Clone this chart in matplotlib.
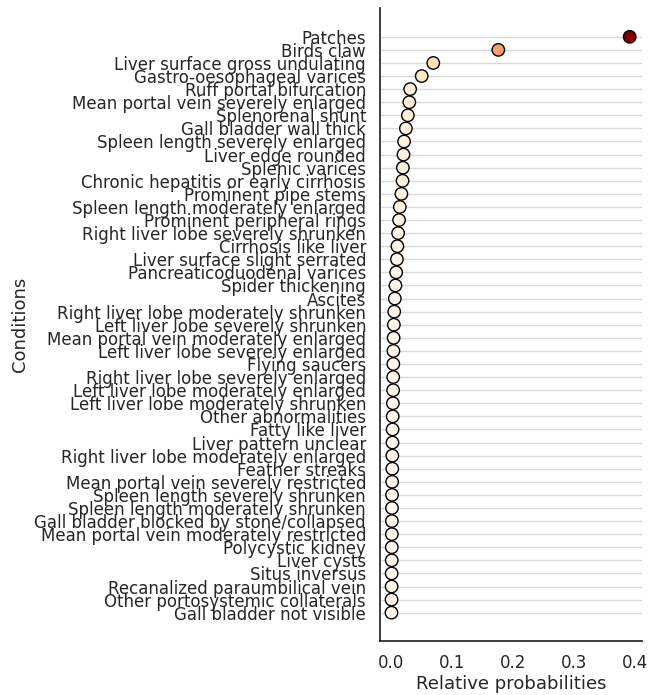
import matplotlib
matplotlib.use("Agg")
import matplotlib.pyplot as plt
import numpy as np
import seaborn as sns

conditions = [
    "Patches", "Birds claw", "Liver surface gross undulating",
    "Gastro-oesophageal varices", "Ruff portal bifurcation",
    "Mean portal vein severely enlarged", "Splenorenal shunt",
    "Gall bladder wall thick", "Spleen length severely enlarged",
    "Liver edge rounded", "Splenic varices",
    "Chronic hepatitis or early cirrhosis", "Prominent pipe stems",
    "Spleen length moderately enlarged", "Prominent peripheral rings",
    "Right liver lobe severely shrunken", "Cirrhosis like liver",
    "Liver surface slight serrated", "Pancreaticoduodenal varices",
    "Spider thickening", "Ascites", "Right liver lobe moderately shrunken",
    "Left liver lobe severely shrunken", "Mean portal vein moderately enlarged",
    "Left liver lobe severely enlarged", "Flying saucers",
    "Right liver lobe severely enlarged", "Left liver lobe moderately enlarged",
    "Left liver lobe moderately shrunken", "Other abnormalities",
    "Fatty like liver", "Liver pattern unclear",
    "Right liver lobe moderately enlarged", "Feather streaks",
    "Mean portal vein severely restricted", "Spleen length severely shrunken",
    "Spleen length moderately shrunken", "Gall bladder blocked by stone/collapsed",
    "Mean portal vein moderately restricted", "Polycystic kidney",
    "Liver cysts", "Situs inversus", "Recanalized paraumbilical vein",
    "Other portosystemic collaterals", "Gall bladder not visible",
]

probs = [
    0.392, 0.176, 0.069, 0.050, 0.0310, 0.0296, 0.0272, 0.0240, 0.0210,
    0.0200, 0.0190, 0.0185, 0.0166, 0.0140, 0.0128, 0.0112, 0.0100,
    0.0092, 0.0080, 0.0068, 0.0058, 0.0048, 0.0042, 0.0038, 0.0035,
    0.0033, 0.0031, 0.0030, 0.0026, 0.0023, 0.0021, 0.0019, 0.0017,
    0.0016, 0.0014, 0.0012, 0.0011, 0.0010, 0.0009, 0.0008, 0.0007,
    0.0006, 0.0005, 0.0004, 0.0003,
]

sns.set_theme(style="white")

fig = plt.figure(figsize=(6.49, 6.95), dpi=100)
ax = fig.add_axes([0.5855, 0.077, 0.4035, 0.9115])

y = np.arange(len(conditions))
ax.hlines(y, -0.05, 0.5, color="#d9d9d9", lw=1, zorder=1)
ax.scatter(probs, y, c=probs, cmap="OrRd", vmin=0, vmax=max(probs),
           s=80, edgecolors="black", linewidths=1, zorder=3)

ax.set_xlim(-0.0186, 0.412)
ax.set_ylim(len(conditions) - 1 + 2.2, -2.2)
ax.set_yticks(y)
ax.set_yticklabels(conditions)
ax.set_xticks([0.0, 0.1, 0.2, 0.3, 0.4])
ax.tick_params(axis="both", labelsize=12, length=0)
ax.tick_params(axis="y", pad=10)
ax.tick_params(axis="x", pad=9)
ax.set_xlabel("Relative probabilities", fontsize=13, labelpad=2)
ax.set_ylabel("Conditions", fontsize=13)

sns.despine(ax=ax)
for s in ["left", "bottom"]:
    ax.spines[s].set_color("#262626")

fig.savefig("out.png", dpi=100)
